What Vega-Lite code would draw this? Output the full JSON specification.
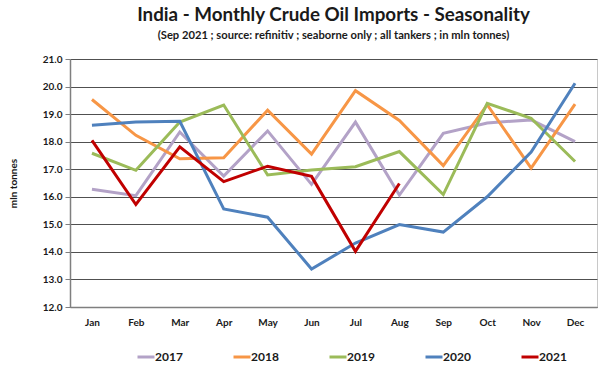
{
  "$schema": "https://vega.github.io/schema/vega-lite/v6.json",
  "width": 527,
  "height": 248,
  "autosize": "none",
  "padding": {"left": 70, "top": 59, "right": 19, "bottom": 68},
  "background": "white",
  "config": {
    "font": "Lato",
    "view": {"stroke": "#c8c8c8", "strokeWidth": 1}
  },
  "title": {
    "text": "India - Monthly Crude Oil Imports - Seasonality",
    "subtitle": "(Sep 2021 ; source: refinitiv ; seaborne only ; all tankers ; in mln tonnes)",
    "anchor": "middle",
    "frame": "group",
    "font": "Lato",
    "fontSize": 18.8,
    "fontWeight": "bold",
    "color": "#1a1a1a",
    "subtitleFont": "Lato",
    "subtitleFontSize": 11.2,
    "subtitleFontWeight": "bold",
    "subtitleColor": "#1a1a1a",
    "subtitlePadding": 5,
    "offset": 13
  },
  "data": {
    "values": [
      {"month": "Jan", "year": "2017", "v": 16.27},
      {"month": "Feb", "year": "2017", "v": 16.04},
      {"month": "Mar", "year": "2017", "v": 18.35},
      {"month": "Apr", "year": "2017", "v": 16.75},
      {"month": "May", "year": "2017", "v": 18.39},
      {"month": "Jun", "year": "2017", "v": 16.45},
      {"month": "Jul", "year": "2017", "v": 18.71},
      {"month": "Aug", "year": "2017", "v": 16.06},
      {"month": "Sep", "year": "2017", "v": 18.3},
      {"month": "Oct", "year": "2017", "v": 18.68},
      {"month": "Nov", "year": "2017", "v": 18.79},
      {"month": "Dec", "year": "2017", "v": 18.0},
      {"month": "Jan", "year": "2018", "v": 19.53},
      {"month": "Feb", "year": "2018", "v": 18.23},
      {"month": "Mar", "year": "2018", "v": 17.38},
      {"month": "Apr", "year": "2018", "v": 17.42},
      {"month": "May", "year": "2018", "v": 19.14},
      {"month": "Jun", "year": "2018", "v": 17.55},
      {"month": "Jul", "year": "2018", "v": 19.85},
      {"month": "Aug", "year": "2018", "v": 18.77},
      {"month": "Sep", "year": "2018", "v": 17.13},
      {"month": "Oct", "year": "2018", "v": 19.34},
      {"month": "Nov", "year": "2018", "v": 17.04},
      {"month": "Dec", "year": "2018", "v": 19.36},
      {"month": "Jan", "year": "2019", "v": 17.58},
      {"month": "Feb", "year": "2019", "v": 16.96},
      {"month": "Mar", "year": "2019", "v": 18.71},
      {"month": "Apr", "year": "2019", "v": 19.33},
      {"month": "May", "year": "2019", "v": 16.79},
      {"month": "Jun", "year": "2019", "v": 16.97},
      {"month": "Jul", "year": "2019", "v": 17.09},
      {"month": "Aug", "year": "2019", "v": 17.64},
      {"month": "Sep", "year": "2019", "v": 16.08},
      {"month": "Oct", "year": "2019", "v": 19.39},
      {"month": "Nov", "year": "2019", "v": 18.85},
      {"month": "Dec", "year": "2019", "v": 17.28},
      {"month": "Jan", "year": "2020", "v": 18.6},
      {"month": "Feb", "year": "2020", "v": 18.71},
      {"month": "Mar", "year": "2020", "v": 18.74},
      {"month": "Apr", "year": "2020", "v": 15.56},
      {"month": "May", "year": "2020", "v": 15.26},
      {"month": "Jun", "year": "2020", "v": 13.38},
      {"month": "Jul", "year": "2020", "v": 14.32},
      {"month": "Aug", "year": "2020", "v": 14.99},
      {"month": "Sep", "year": "2020", "v": 14.72},
      {"month": "Oct", "year": "2020", "v": 16.0},
      {"month": "Nov", "year": "2020", "v": 17.62},
      {"month": "Dec", "year": "2020", "v": 20.12},
      {"month": "Jan", "year": "2021", "v": 18.05},
      {"month": "Feb", "year": "2021", "v": 15.72},
      {"month": "Mar", "year": "2021", "v": 17.81},
      {"month": "Apr", "year": "2021", "v": 16.55},
      {"month": "May", "year": "2021", "v": 17.11},
      {"month": "Jun", "year": "2021", "v": 16.74},
      {"month": "Jul", "year": "2021", "v": 14.02},
      {"month": "Aug", "year": "2021", "v": 16.48}
    ]
  },
  "mark": {"type": "line", "strokeWidth": 3, "strokeJoin": "miter"},
  "encoding": {
    "x": {
      "field": "month",
      "type": "ordinal",
      "sort": ["Jan","Feb","Mar","Apr","May","Jun","Jul","Aug","Sep","Oct","Nov","Dec"],
      "scale": {"type": "point", "padding": 0.5},
      "axis": {
        "title": null,
        "labelAngle": 0,
        "ticks": false,
        "grid": false,
        "domainColor": "#7f7f7f",
        "domainWidth": 1.5,
        "labelFont": "Lato",
        "labelFontSize": 10,
        "labelFontWeight": "bold",
        "labelColor": "#1a1a1a",
        "labelPadding": 10
      }
    },
    "y": {
      "field": "v",
      "type": "quantitative",
      "scale": {"domain": [12, 21], "nice": false, "zero": false},
      "axis": {
        "title": "mln tonnes",
        "titleFont": "Lato",
        "titleFontSize": 10,
        "titleFontWeight": "bold",
        "titleColor": "#1a1a1a",
        "titlePadding": 24,
        "values": [12,13,14,15,16,17,18,19,20,21],
        "format": ".1f",
        "tickCount": 10,
        "tickColor": "#7f7f7f",
        "tickSize": 5,
        "domainColor": "#7f7f7f",
        "domainWidth": 1.5,
        "gridColor": "#505050",
        "gridWidth": 1,
        "labelFont": "Lato",
        "labelFontSize": 10,
        "labelFontWeight": "bold",
        "labelColor": "#1a1a1a",
        "labelPadding": 3
      }
    },
    "color": {
      "field": "year",
      "type": "nominal",
      "scale": {
        "domain": ["2017","2018","2019","2020","2021"],
        "range": ["#b3a2c7","#f79646","#9bbb59","#4f81bd","#c00000"]
      },
      "legend": {
        "title": null,
        "orient": "none",
        "direction": "horizontal",
        "legendX": 66,
        "legendY": 288,
        "symbolType": "stroke",
        "symbolSize": 289,
        "symbolStrokeWidth": 3,
        "labelFont": "Lato",
        "labelFontSize": 12,
        "labelFontWeight": "bold",
        "labelColor": "#1a1a1a",
        "labelOffset": -1,
        "columnPadding": 44
      }
    }
  }
}
